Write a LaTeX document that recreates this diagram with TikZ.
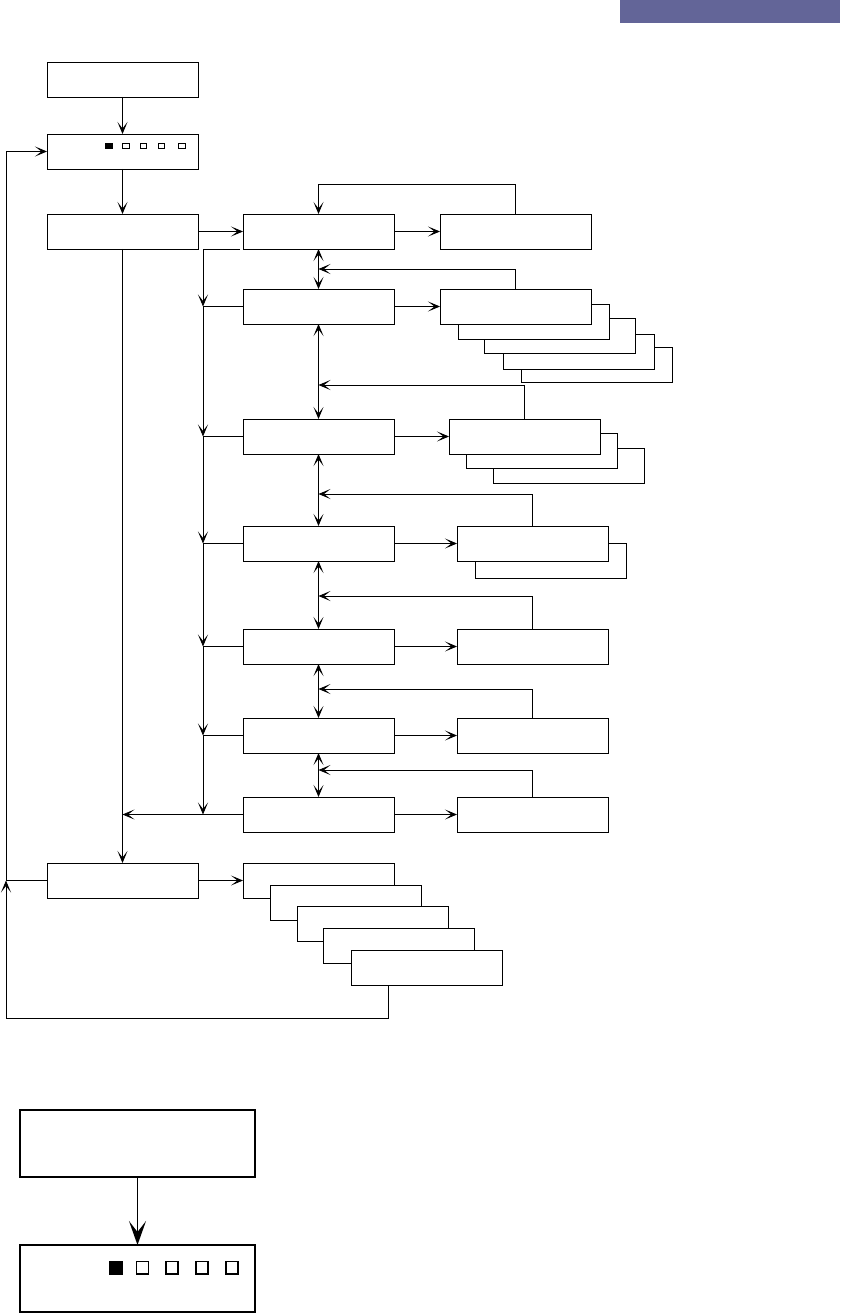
\documentclass[tikz,border=0pt]{standalone}
\usepackage{xcolor}
\usepackage{tikz}
\usetikzlibrary{arrows.meta, positioning, calc}
\definecolor{menubar}{RGB}{99,101,152}

\begin{document}
\begin{tikzpicture}[
    x=1pt, y=-1pt,
    box/.style={rectangle, draw, fill=white, line width=0.8pt, minimum width=151pt, minimum height=35pt, inner sep=0pt, outer sep=0pt},
    bigbox/.style={rectangle, draw, fill=white, line width=1.7pt, minimum width=235pt, minimum height=67pt, inner sep=0pt, outer sep=0pt},
    led/.style={rectangle, draw, line width=0.6pt, minimum width=6.5pt, minimum height=5.5pt, inner sep=0pt},
    bigled/.style={rectangle, draw, line width=1.4pt, minimum width=12pt, minimum height=12.5pt, inner sep=0pt},
    wire/.style={line width=0.8pt},
    arrow/.style={-{Stealth[length=12pt, width=10pt, inset=6.5pt]}, line width=0.8pt},
    dblarrow/.style={{Stealth[length=12pt, width=10pt, inset=6.5pt]}-{Stealth[length=12pt, width=10pt, inset=6.5pt]}, line width=0.8pt},
    bigarrow/.style={-{Stealth[length=24pt, width=17pt, inset=11pt]}, line width=1.7pt}
]
\useasboundingbox (0,0) rectangle (840,1313);

% title bar
\fill[menubar] (620,0) rectangle (840,23);

% left column
\node[box] (start) at (122.5,79.5) {};
\node[box] (menu) at (122.5,151.5) {};
\node[led, fill=black] (led1) at (108.8,145.8) {};
\foreach \x [count=\i from 2] in {125.8,143.5,161.5,181.8}
    \node[led] (led\i) at (\x,145.8) {};
\node[box] (sel) at (122.5,231.5) {};
\node[box] (exit) at (122.5,880.5) {};

% middle column
\foreach \y [count=\i] in {231.5,306.5,436.5,543.5,646.5,735.5,814.5}
    \node[box] (set\i) at (318.5,\y) {};

% right column (stacks drawn back to front)
\node[box] (opt1) at (515.5,231.5) {};
\node[box] (opt2e) at (597,364.5) {};
\node[box] (opt2d) at (578.5,351.5) {};
\node[box] (opt2c) at (560,336) {};
\node[box] (opt2b) at (533.5,321.5) {};
\node[box] (opt2) at (515.5,306.5) {};
\node[box] (opt3c) at (569,465.5) {};
\node[box] (opt3b) at (542,450.5) {};
\node[box] (opt3) at (524.5,436.5) {};
\node[box] (opt4b) at (550.5,560.5) {};
\node[box] (opt4) at (532.5,543.5) {};
\node[box] (opt5) at (532.5,646.5) {};
\node[box] (opt6) at (532.5,735.5) {};
\node[box] (opt7) at (532.5,814.5) {};

% output stack
\node[box] (out1) at (318.5,880.5) {};
\node[box] (out2) at (345.5,902.5) {};
\node[box] (out3) at (372.5,923.5) {};
\node[box] (out4) at (398.5,945.5) {};
\node[box] (out5) at (426.5,967.5) {};

% main flow
\draw[arrow] (start) -- (menu);
\draw[arrow] (menu) -- (sel);
\draw[arrow] (sel) -- (set1);
\draw[arrow] (sel) -- (exit);
\draw[arrow] (exit) -- (out1);
\foreach \i in {1,...,7}
    \draw[arrow] (set\i) -- (opt\i);
\foreach \a/\b in {1/2,2/3,3/4,4/5,5/6,6/7}
    \draw[dblarrow] (set\a) -- (set\b);

% feedback from right column
\draw[arrow] (opt1.north) -- ++(0,-30) -| (set1.north);
\foreach \i/\y in {2/269,3/385,4/494,5/596,6/689,7/770} {
    \coordinate (fb\i) at (318.5,\y);
    \draw[arrow] (opt\i.north) |- (fb\i);
}

% return bus
\foreach \i in {2,...,7}
    \draw[wire] (set\i.west) -- ++(-40,0) coordinate (bus\i);
\draw[arrow] ([xshift=-3pt]set1.south west) -| (bus2);
\foreach \a/\b in {2/3,3/4,4/5,5/6,6/7}
    \draw[arrow] (bus\a) -- (bus\b);
\draw[arrow] (set7.west) -- (set7.west -| sel.south);

% loop back to menu
\draw[arrow] (exit.west) -- ++(-41,0) coordinate (loop) |- (menu.west);
\draw[arrow] ([xshift=37pt]out5.south west) -- ++(0,33) -| (loop);

% lower detail
\node[bigbox] (info) at (137.5,1143.5) {};
\node[bigbox] (panel) at (137.5,1278.5) {};
\draw[bigarrow] (info) -- (panel);
\node[bigled, fill=black] (bigled1) at (115.8,1267.7) {};
\foreach \x [count=\i from 2] in {142.5,172,202,232}
    \node[bigled] (bigled\i) at (\x,1267.7) {};

\end{tikzpicture}
\end{document}
